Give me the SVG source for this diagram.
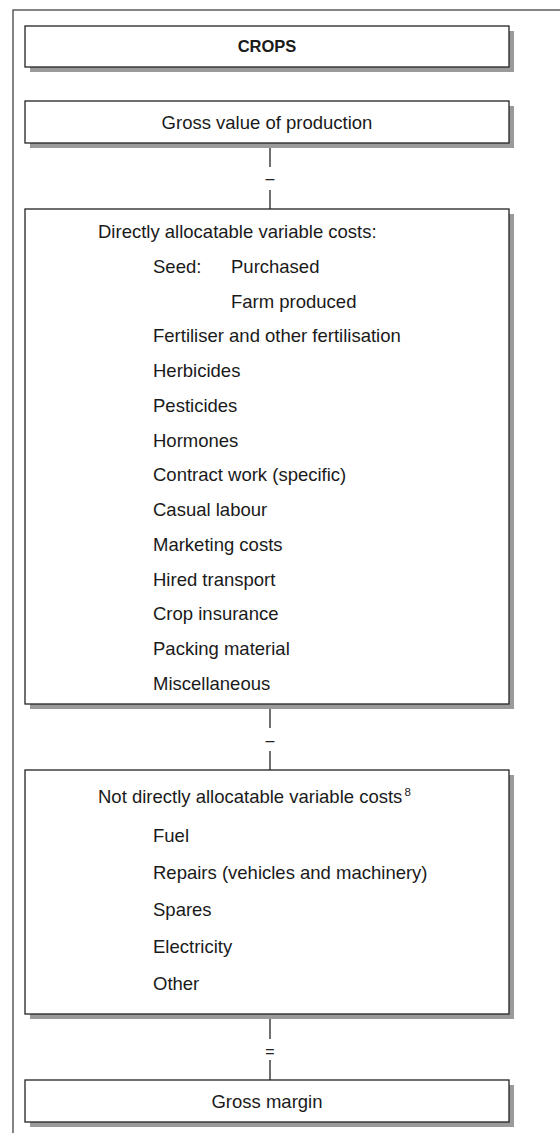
<svg xmlns="http://www.w3.org/2000/svg" width="560" height="1133" viewBox="0 0 560 1133">
  <style>
    .frame { fill: none; stroke: #333; stroke-width: 1.2; }
    .shadow { fill: #9a9a9a; stroke: none; }
    .box { fill: #fff; stroke: #222; stroke-width: 1.3; }
    .t { font-family: "Liberation Sans", Arial, sans-serif; font-size: 18.5px; fill: #1a1a1a; }
    .c { text-anchor: middle; }
    .b { font-weight: bold; font-size: 16.5px; }
    .conn { stroke: #222; stroke-width: 1.3; fill: none; }
    .sym { font-family: "Liberation Sans", Arial, sans-serif; font-size: 16px; fill: #222; text-anchor: middle; }
  </style>
  <rect class="frame" x="13" y="10" width="600" height="1200"/>

  <g id="crops">
    <rect class="shadow" x="30" y="31" width="484" height="41"/>
    <rect class="box" x="25" y="26" width="484" height="41"/>
    <text class="t c b" x="267" y="52">CROPS</text>
  </g>

  <g id="gross-value">
    <rect class="shadow" x="30" y="106" width="484" height="42"/>
    <rect class="box" x="25" y="101" width="484" height="42"/>
    <text class="t c" x="267" y="129">Gross value of production</text>
  </g>

  <g id="direct-costs">
    <rect class="shadow" x="30" y="214" width="484" height="495"/>
    <rect class="box" x="25" y="209" width="484" height="495"/>
    <text class="t" x="98" y="238">Directly allocatable variable costs:</text>
    <text class="t" x="153" y="272.75">Seed:</text>
    <text class="t" x="231" y="272.75">Purchased</text>
    <text class="t" x="231" y="307.5">Farm produced</text>
    <text class="t" x="153" y="342.25">Fertiliser and other fertilisation</text>
    <text class="t" x="153" y="377">Herbicides</text>
    <text class="t" x="153" y="411.75">Pesticides</text>
    <text class="t" x="153" y="446.5">Hormones</text>
    <text class="t" x="153" y="481.25">Contract work (specific)</text>
    <text class="t" x="153" y="516">Casual labour</text>
    <text class="t" x="153" y="550.75">Marketing costs</text>
    <text class="t" x="153" y="585.5">Hired transport</text>
    <text class="t" x="153" y="620.25">Crop insurance</text>
    <text class="t" x="153" y="655">Packing material</text>
    <text class="t" x="153" y="689.75">Miscellaneous</text>
  </g>

  <g id="indirect-costs">
    <rect class="shadow" x="30" y="775" width="484" height="244"/>
    <rect class="box" x="25" y="770" width="484" height="244"/>
    <text class="t" x="98" y="803">Not directly allocatable variable costs<tspan font-size="11.5" dx="2" dy="-7">8</tspan></text>
    <text class="t" x="153" y="842">Fuel</text>
    <text class="t" x="153" y="879">Repairs (vehicles and machinery)</text>
    <text class="t" x="153" y="916">Spares</text>
    <text class="t" x="153" y="953">Electricity</text>
    <text class="t" x="153" y="990">Other</text>
  </g>

  <g id="gross-margin">
    <rect class="shadow" x="30" y="1085" width="484" height="42"/>
    <rect class="box" x="25" y="1080" width="484" height="42"/>
    <text class="t c" x="267" y="1108">Gross margin</text>
  </g>

  <g id="connectors">
    <line class="conn" x1="270" y1="148" x2="270" y2="167"/>
    <text class="sym" x="270" y="184">–</text>
    <line class="conn" x1="270" y1="190" x2="270" y2="209"/>

    <line class="conn" x1="270" y1="709" x2="270" y2="728"/>
    <text class="sym" x="270" y="746">–</text>
    <line class="conn" x1="270" y1="751" x2="270" y2="770"/>

    <line class="conn" x1="270" y1="1019" x2="270" y2="1039"/>
    <text class="sym" x="270" y="1057">=</text>
    <line class="conn" x1="270" y1="1060" x2="270" y2="1080"/>
  </g>
</svg>
